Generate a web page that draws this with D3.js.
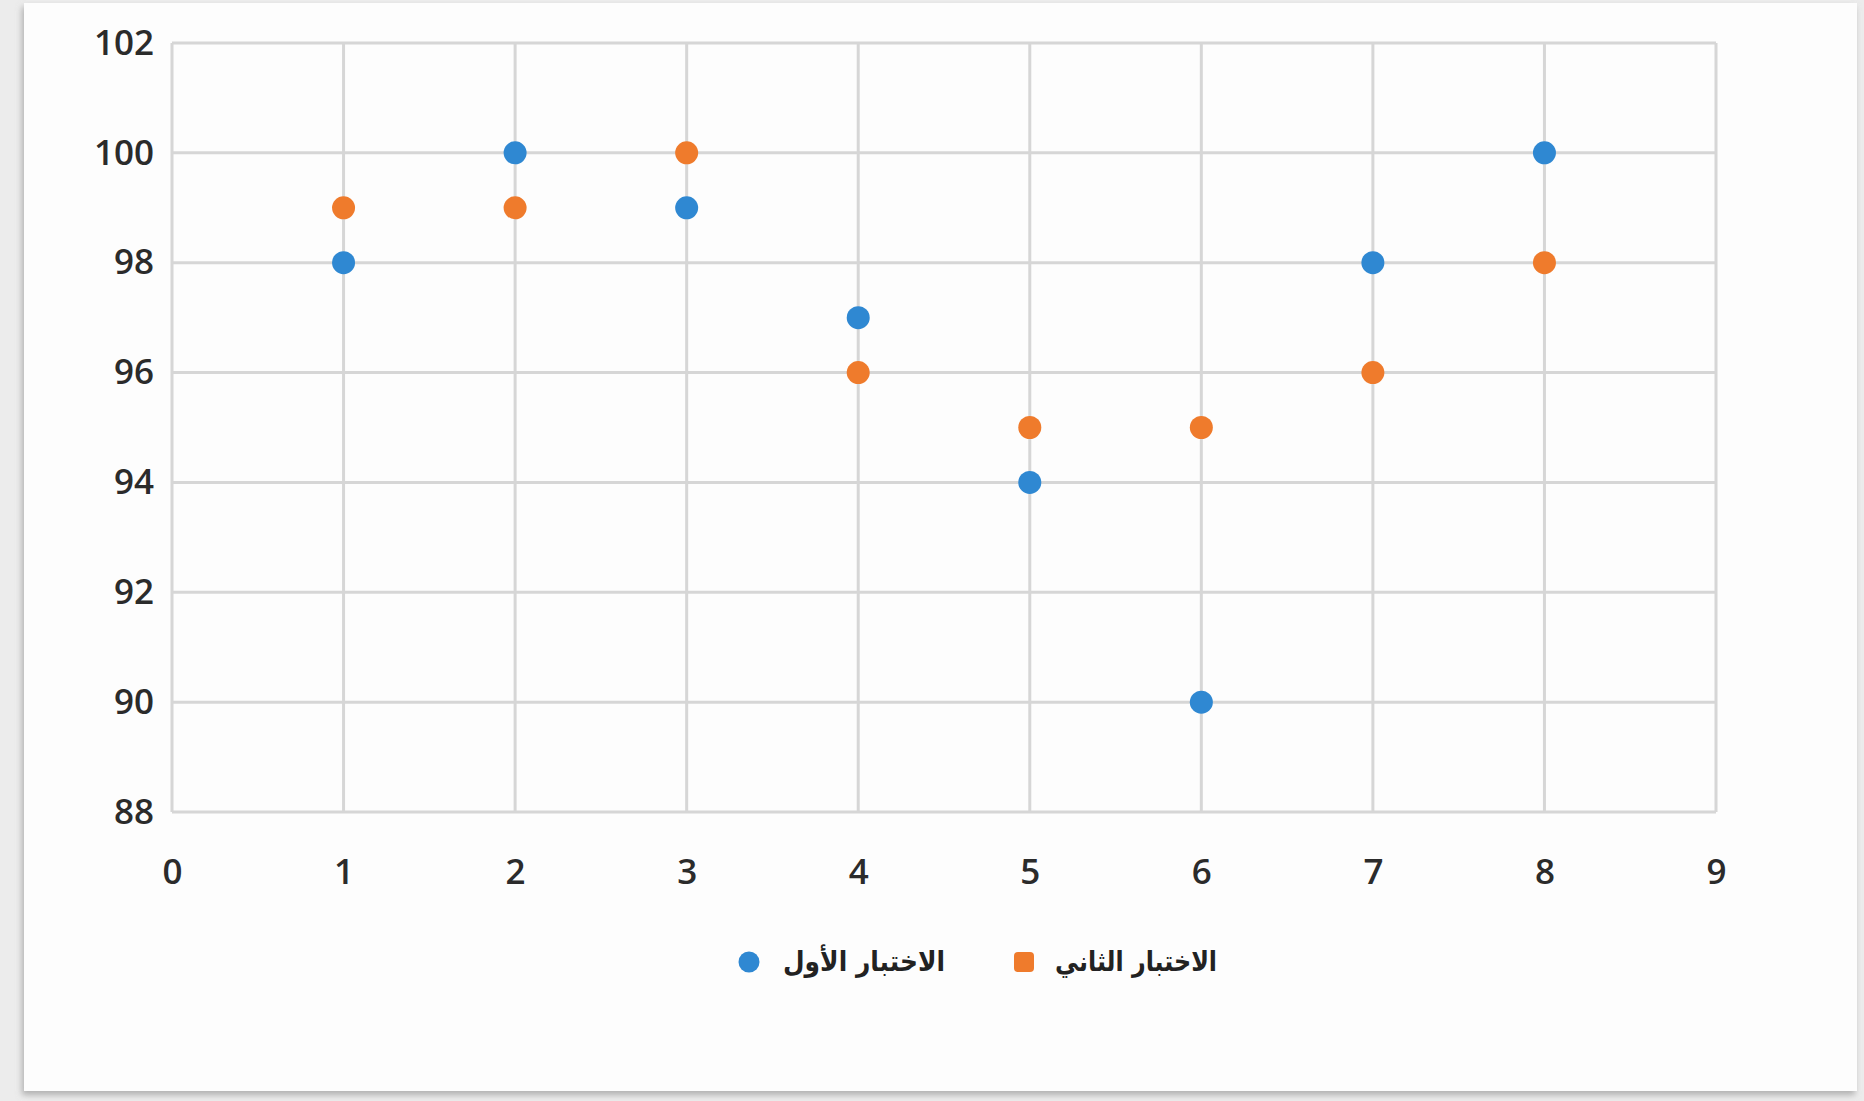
<!DOCTYPE html>
<html>
<head>
<meta charset="utf-8">
<script src="https://cdn.jsdelivr.net/npm/d3@7"></script>
<style>
  body { margin: 0; background: #ececec; }
  svg { display: block; }
</style>
</head>
<body>
<script>
// data
let xValues = [1, 2, 3, 4, 5, 6, 7, 8];
let firstTest = [98, 100, 99, 97, 94, 90, 98, 100];   // blue
let secondTest = [99, 99, 100, 96, 95, 95, 96, 98];   // orange
let seriesNames = ["الاختبار الأول", "الاختبار الثاني"];
let xTicks = [0, 1, 2, 3, 4, 5, 6, 7, 8, 9];
let yTicks = [88, 90, 92, 94, 96, 98, 100, 102];

let width = 1864;
let height = 1101;
let colors = ["#2f88d2", "#ef7b2c"];

let svg = d3.select("body").append("svg")
            .attr("width", width)
            .attr("height", height);

// card with a soft shadow
let defs = svg.append("defs");
let shadow = defs.append("filter").attr("id", "shadow")
    .attr("x", "-5%").attr("y", "-5%").attr("width", "110%").attr("height", "110%");
shadow.append("feDropShadow")
    .attr("dx", -2).attr("dy", 4).attr("stdDeviation", 3)
    .attr("flood-color", "#888").attr("flood-opacity", 0.6);

svg.append("rect")
    .attr("x", 24).attr("y", 3)
    .attr("width", 1833).attr("height", 1088)
    .attr("fill", "#fdfdfd")
    .attr("filter", "url(#shadow)");

let margin = {left: 172, right: 148, top: 43, bottom: 289};
let x = d3.scaleLinear().domain([0, 9]).range([margin.left, width - margin.right]);
let y = d3.scaleLinear().domain([88, 102]).range([height - margin.bottom, margin.top]);

// gridlines
let grid = svg.append("g").attr("class", "grid");
grid.selectAll("line.h")
    .data(yTicks)
    .enter().append("line")
    .attr("class", "h")
    .attr("x1", x(0)).attr("x2", x(9))
    .attr("y1", d => y(d)).attr("y2", d => y(d))
    .attr("stroke", "#d6d6d6")
    .attr("stroke-width", 3);
grid.selectAll("line.v")
    .data(xTicks)
    .enter().append("line")
    .attr("class", "v")
    .attr("x1", d => x(d)).attr("x2", d => x(d))
    .attr("y1", y(88)).attr("y2", y(102))
    .attr("stroke", "#d6d6d6")
    .attr("stroke-width", 3);

// axes (text only, like the reference)
let xAxis = svg.append("g")
    .attr("transform", "translate(0," + y(88) + ")")
    .call(d3.axisBottom(x).tickValues(xTicks).tickSize(0).tickPadding(47));
let yAxis = svg.append("g")
    .attr("transform", "translate(" + x(0) + ",0)")
    .call(d3.axisLeft(y).tickValues(yTicks).tickSize(0).tickPadding(18));

for (let ax of [xAxis, yAxis]) {
  ax.select(".domain").remove();
  ax.selectAll("text")
    .attr("fill", "#2b2b2b")
    .style("font-family", "'Open Sans', sans-serif")
    .style("font-size", "35px")
    .style("font-weight", "600");
}

// points
let series = [firstTest, secondTest];
series.forEach(function(values, i) {
  svg.append("g").attr("class", "series-" + i)
     .selectAll("circle")
     .data(values)
     .enter().append("circle")
     .attr("cx", (d, j) => x(xValues[j]))
     .attr("cy", d => y(d))
     .attr("r", 11.5)
     .attr("fill", colors[i]);
});

// legend
let legend = svg.append("g").attr("class", "legend");
let legendItems = [
  {name: seriesNames[0], color: colors[0], mx: 749, tx: 945, shape: "circle"},
  {name: seriesNames[1], color: colors[1], mx: 1024, tx: 1217, shape: "square"}
];
let ly = 962;
legendItems.forEach(function(item) {
  if (item.shape === "circle") {
    legend.append("circle")
      .attr("cx", item.mx).attr("cy", ly).attr("r", 10.5)
      .attr("fill", item.color);
  } else {
    legend.append("rect")
      .attr("x", item.mx - 10).attr("y", ly - 10)
      .attr("width", 20).attr("height", 20)
      .attr("rx", 4)
      .attr("fill", item.color);
  }
  legend.append("text")
    .attr("x", item.tx).attr("y", ly)
    .attr("dy", "0.32em")
    .attr("text-anchor", "end")
    .attr("fill", "#222")
    .attr("textLength", 162)
    .attr("lengthAdjust", "spacingAndGlyphs")
    .style("font-family", "'DejaVu Sans', sans-serif")
    .style("font-size", "28px")
    .style("font-weight", "bold")
    .text(item.name);
});
</script>
</body>
</html>
